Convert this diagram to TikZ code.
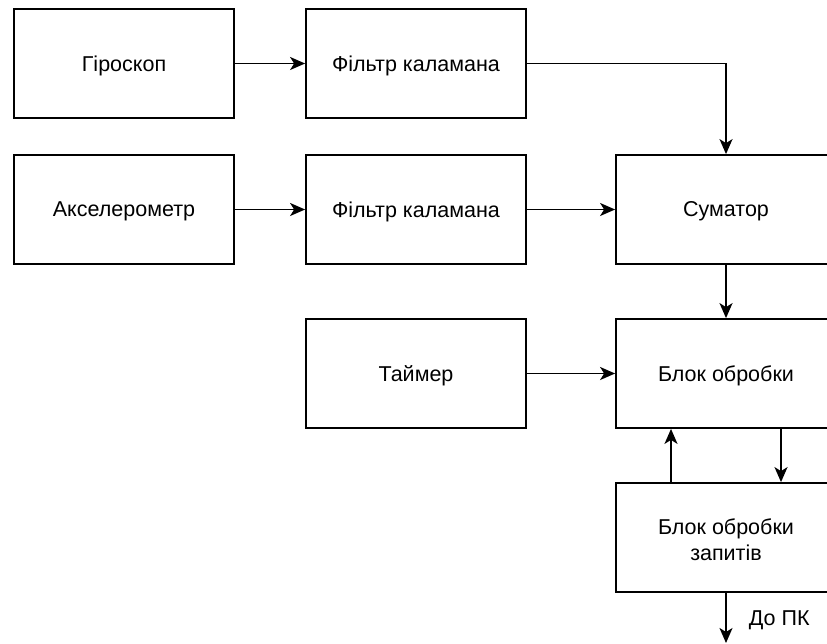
\documentclass[tikz,border=0pt]{standalone}
\usepackage{fontspec}
\setmainfont{Liberation Sans}
\usetikzlibrary{arrows.meta}
\begin{document}
\begin{tikzpicture}[x=1pt,y=-1pt,
  txt/.style={align=center, font=\fontsize{21.5}{26}\selectfont, inner sep=0pt, yshift=-2pt},
  blk/.style={draw, line width=1.8pt, minimum width=220pt, minimum height=109pt, inner sep=0pt, label={[txt]center:#1}},
  arr/.style={line width=1.8pt, -{Stealth[length=15pt,width=13pt,inset=4pt]}}]
\useasboundingbox (0,0) rectangle (827,643);
\clip (0,0) rectangle (827,643);
\node[blk=Гіроскоп] (gyro) at (124,63.5) {};
\node[blk=Фільтр каламана] (f1) at (416,63.5) {};
\node[blk=Акселерометр] (acc) at (124,209.5) {};
\node[blk=Фільтр каламана] (f2) at (416,209.5) {};
\node[blk=Суматор] (sum) at (726,209.5) {};
\node[blk=Таймер] (tim) at (416,373.5) {};
\node[blk=Блок обробки] (proc) at (726,373.5) {};
\node[blk={Блок обробки\\запитів}] (req) at (726,537.5) {};
\coordinate (pc) at (726,643);
\draw[arr] (gyro) -- (f1);
\draw[arr] (acc) -- (f2);
\draw[arr] (f2) -- (sum);
\draw[arr] (tim) -- (proc);
\draw[arr] (f1.east) -| (sum.north);
\draw[arr] (sum) -- (proc);
\draw[arr] ([xshift=-55pt]req.north) -- ([xshift=-55pt]proc.south);
\draw[arr] ([xshift=55pt]proc.south) -- ([xshift=55pt]req.north);
\draw[arr] (req) -- (pc) node[pos=0.55, right=22pt, font=\fontsize{21.5}{26}\selectfont, inner sep=0pt] (lbl) {До ПК};
\end{tikzpicture}
\end{document}
